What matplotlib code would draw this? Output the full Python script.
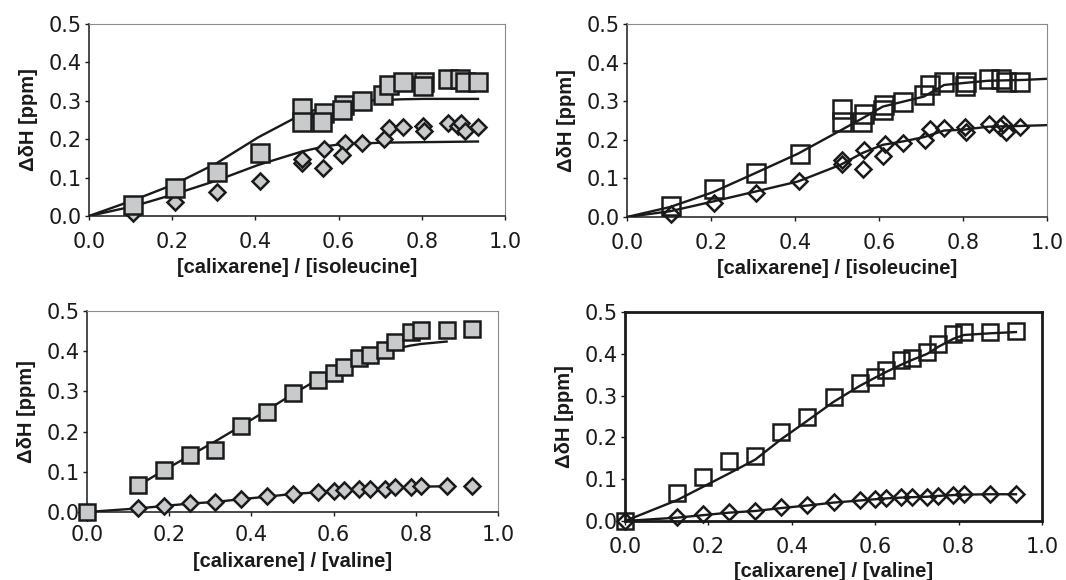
"""
Calixarene titration curves, isoleucine and valine
"""

import matplotlib
matplotlib.use("Agg")
import matplotlib.pyplot as plt

# isoleucine, shared by the two top panels
ile_x_sq = [0.105, 0.207, 0.308, 0.411, 0.512, 0.512, 0.565, 0.560, 0.613, 0.609,
            0.657, 0.706, 0.722, 0.754, 0.806, 0.804, 0.863, 0.891, 0.903, 0.935]
ile_y_sq = [0.029, 0.072, 0.115, 0.163, 0.280, 0.246, 0.267, 0.246, 0.289, 0.276,
            0.299, 0.315, 0.341, 0.350, 0.350, 0.339, 0.358, 0.358, 0.350, 0.350]
ile_x_di = [0.105, 0.207, 0.308, 0.410, 0.512, 0.512, 0.565, 0.562, 0.615, 0.609,
            0.657, 0.710, 0.722, 0.754, 0.804, 0.806, 0.863, 0.887, 0.895, 0.903, 0.935]
ile_y_di = [0.009, 0.037, 0.063, 0.092, 0.137, 0.148, 0.174, 0.124, 0.189, 0.159,
            0.191, 0.200, 0.228, 0.231, 0.234, 0.221, 0.241, 0.234, 0.241, 0.221, 0.233]

# fitted curves, top left
fit1_x_up = [0, 0.109, 0.206, 0.306, 0.407, 0.512, 0.565, 0.613, 0.657, 0.706, 0.754, 0.806, 0.935]
fit1_y_up = [0, 0.042, 0.083, 0.137, 0.205, 0.265, 0.284, 0.295, 0.300, 0.302, 0.304, 0.305, 0.305]
fit1_x_lo = [0, 0.109, 0.206, 0.306, 0.407, 0.512, 0.565, 0.613, 0.657, 0.706, 0.935]
fit1_y_lo = [0, 0.026, 0.057, 0.092, 0.133, 0.168, 0.181, 0.188, 0.189, 0.191, 0.194]

# trend lines, top right
fit2_x = [0, 0.103, 0.204, 0.306, 0.407, 0.508, 0.561, 0.609, 0.658, 0.707, 0.755, 0.800, 0.860, 0.942, 1.0]
fit2_y_up = [0, 0.026, 0.064, 0.114, 0.164, 0.224, 0.256, 0.286, 0.299, 0.312, 0.342, 0.347, 0.353, 0.355, 0.358]
fit2_y_lo = [0, 0.015, 0.040, 0.066, 0.092, 0.135, 0.166, 0.187, 0.196, 0.207, 0.224, 0.226, 0.234, 0.236, 0.238]

# valine, shared by the two bottom panels
val_x = [0, 0.125, 0.1875, 0.25, 0.3125, 0.375, 0.4375, 0.5, 0.5625, 0.6, 0.625,
         0.6625, 0.6875, 0.725, 0.75, 0.7875, 0.8125, 0.875, 0.9375]
val_y_sq = [0.0, 0.067, 0.105, 0.143, 0.155, 0.214, 0.249, 0.296, 0.329, 0.345, 0.361,
            0.384, 0.391, 0.404, 0.424, 0.447, 0.452, 0.452, 0.454]
val_y_di = [0.0, 0.010, 0.016, 0.022, 0.025, 0.033, 0.039, 0.046, 0.050, 0.053, 0.054,
            0.057, 0.057, 0.058, 0.061, 0.063, 0.064, 0.064, 0.064]

# bottom left fits (stop at 0.875, square fit starts at 0.125)
fit3_y_sq = [0.066, 0.104, 0.140, 0.176, 0.214, 0.253, 0.293, 0.330, 0.349, 0.360,
             0.377, 0.387, 0.399, 0.406, 0.414, 0.418, 0.424]
fit3_y_di = [0.0, 0.009, 0.015, 0.021, 0.025, 0.032, 0.038, 0.045, 0.049, 0.052, 0.054,
             0.056, 0.057, 0.058, 0.060, 0.062, 0.063, 0.064]

# bottom right fits
fit4_y_sq = [0.0, 0.050, 0.082, 0.114, 0.147, 0.196, 0.240, 0.285, 0.323, 0.343, 0.356,
             0.374, 0.385, 0.400, 0.416, 0.436, 0.445, 0.449, 0.452]
fit4_y_di = [0.0, 0.008, 0.014, 0.020, 0.024, 0.031, 0.037, 0.044, 0.049, 0.052, 0.054,
             0.056, 0.057, 0.058, 0.060, 0.062, 0.063, 0.064, 0.064]

ticks_x = [0.0, 0.2, 0.4, 0.6, 0.8, 1.0]
ticks_y = [0.0, 0.1, 0.2, 0.3, 0.4, 0.5]

W, H = 1066, 580
INK = '#1a1a1a'
GRAY = '#c9cacc'

plt.rcParams['font.family'] = ['Liberation Sans', 'DejaVu Sans']

fig = plt.figure(figsize=(W / 100, H / 100), dpi=100)


def px_axes(x0, x1, ytop, ybot):
    return fig.add_axes([x0 / W, 1 - ybot / H, (x1 - x0) / W, (ybot - ytop) / H])


def style(ax, xlabel, boxed=False, xpad=8.5, xlabelpad=4):
    ax.set_xlim(0, 1)
    ax.set_ylim(0, 0.5)
    ax.set_xticks(ticks_x)
    ax.set_yticks(ticks_y)
    ax.set_xticklabels([f'{t:.1f}' for t in ticks_x], family='DejaVu Sans')
    ax.set_yticklabels([f'{t:.1f}' for t in ticks_y], family='DejaVu Sans')
    ax.tick_params(direction='out', length=3, width=1, colors=INK, labelsize=15)
    ax.tick_params(axis='x', pad=xpad)
    ax.tick_params(axis='y', pad=2)
    if boxed:
        for s in ax.spines.values():
            s.set_color(INK)
            s.set_linewidth(2)
    else:
        for s in ('left', 'bottom'):
            ax.spines[s].set_color(INK)
            ax.spines[s].set_linewidth(1.1)
        for s in ('top', 'right'):
            ax.spines[s].set_color('#8a8a8a')
            ax.spines[s].set_linewidth(0.8)
    ax.set_xlabel(xlabel, fontsize=14.5, fontweight='bold', color=INK, labelpad=xlabelpad)
    ax.set_ylabel('\u0394\u03b4H [ppm]', fontsize=14.5, fontweight='bold', color=INK, labelpad=8)


def marks(ax, x, y, marker, face, sq=12.0):
    ms = sq if marker == 's' else 8.4
    ax.plot(x, y, linestyle='none', marker=marker, ms=ms, mfc=face, mec=INK,
            mew=1.8, clip_on=False, zorder=3)


# top left
ax1 = px_axes(89, 505, 24, 216)
ax1.plot(fit1_x_up, fit1_y_up, color=INK, lw=1.7, zorder=2)
ax1.plot(fit1_x_lo, fit1_y_lo, color=INK, lw=1.7, zorder=2)
marks(ax1, ile_x_di, ile_y_di, 'D', GRAY)
marks(ax1, ile_x_sq, ile_y_sq, 's', GRAY, sq=12.5)
style(ax1, '[calixarene] / [isoleucine]')

# top right
ax2 = px_axes(627, 1047, 24, 217)
ax2.plot(fit2_x, fit2_y_up, color=INK, lw=1.7, zorder=2)
ax2.plot(fit2_x, fit2_y_lo, color=INK, lw=1.7, zorder=2)
marks(ax2, ile_x_di, ile_y_di, 'D', 'none')
marks(ax2, ile_x_sq, ile_y_sq, 's', 'none', sq=12.5)
style(ax2, '[calixarene] / [isoleucine]')

# bottom left
ax3 = px_axes(87, 498, 311, 512)
ax3.plot(val_x[1:18], fit3_y_sq, color=INK, lw=1.7, zorder=2)
ax3.plot(val_x[:18], fit3_y_di, color=INK, lw=1.7, zorder=2)
marks(ax3, val_x, val_y_di, 'D', GRAY)
marks(ax3, val_x, val_y_sq, 's', GRAY, sq=11.5)
style(ax3, '[calixarene] / [valine]', xpad=6.5, xlabelpad=5)

# bottom right
ax4 = px_axes(625, 1042, 312, 521)
ax4.plot(val_x, fit4_y_sq, color=INK, lw=1.7, zorder=2)
ax4.plot(val_x, fit4_y_di, color=INK, lw=1.7, zorder=2)
marks(ax4, val_x, val_y_sq, 's', 'none', sq=11.5)
marks(ax4, val_x, val_y_di, 'D', 'none')
style(ax4, '[calixarene] / [valine]', boxed=True, xpad=8.5, xlabelpad=3.5)

fig.savefig('out.png', dpi=100, facecolor='white')
